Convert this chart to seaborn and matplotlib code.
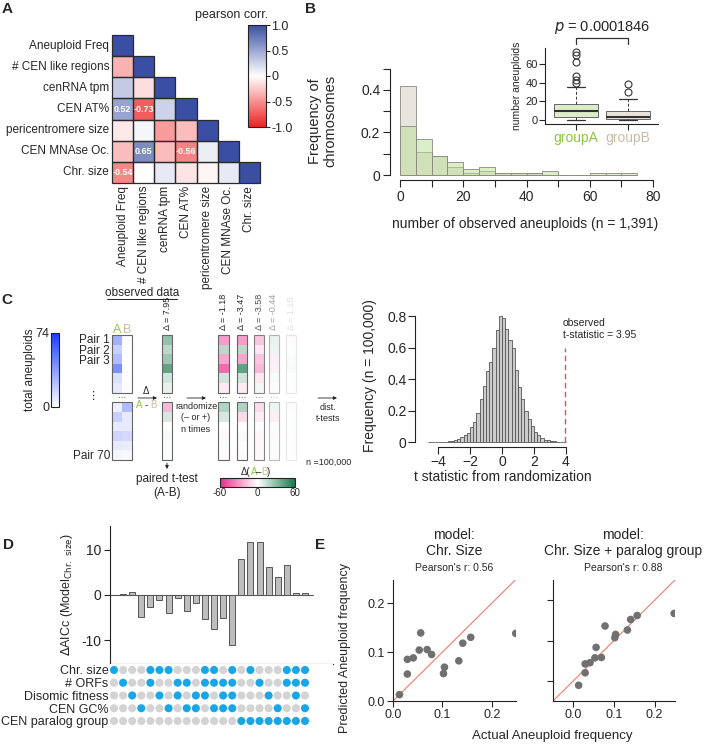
import numpy as np
import pandas as pd
import matplotlib
matplotlib.use("Agg")
import matplotlib.pyplot as plt
import seaborn as sns
from matplotlib.colors import LinearSegmentedColormap, Normalize
from matplotlib.patches import Rectangle
from matplotlib.cm import ScalarMappable

# ---------------- data ----------------
# Panel A
corr_labels = ["Aneuploid Freq", "# CEN like regions", "cenRNA tpm", "CEN AT%",
               "pericentromere size", "CEN MNAse Oc.", "Chr. size"]
corr_rows = [
    [1.00],
    [-0.35, 1.00],
    [0.30, -0.15, 1.00],
    [0.52, -0.73, 0.25, 1.00],
    [-0.10, 0.05, -0.45, -0.30, 1.00],
    [-0.30, 0.65, -0.30, -0.56, 0.10, 1.00],
    [-0.54, 0.00, 0.12, -0.12, -0.04, 0.12, 1.00],
]
cbar_ticks_A = [1.0, 0.5, 0.0, -0.5, -1.0]
cbar_ticklabels_A = ["1.0", "0.5", "0", "-0.5", "-1.0"]

# Panel B
bin_left_B = [0, 5, 10, 15, 20, 25, 30, 35, 40, 45, 50, 55, 60, 65, 70]
groupA_freq = [0.23, 0.17, 0.09, 0.06, 0.03, 0.04, 0.01, 0.01, 0.01, 0.02, 0.0, 0.0, 0.01, 0.01, 0.01]
groupB_freq = [0.42, 0.11, 0.09, 0.04, 0.01, 0.02, 0.01, 0.01, 0.01, 0.0, 0.0, 0.0, 0.0, 0.0, 0.0]
box_groups = ["groupA", "groupB"]
box_q1 = [3.6, 1.0]
box_med = [9.6, 3.0]
box_q3 = [16.8, 10.0]
box_wlo = [0.0, 0.0]
box_whi = [35.7, 22.0]
box_fliers = [[40, 43, 47, 62, 69, 73], [30, 39]]
p_text = "0.0001846"

# Panel C schematic
AB_A = [30, 18, 25, 42, 12, 8, None, 6, 18, 8, 16, 8, 4]
AB_B = [2, 1, 0, 1, 0, 2, None, 26, 8, 8, 14, 7, 3]
obs_delta = [28, 17, 25, 41, 12, 6, None, -20, 10, 0, 2, 1, 1]
rand_cols = [
    [-28, 17, -25, -41, 12, -6, None, 20, 10, 0, -2, 1, -1],
    [-28, 17, -25, 41, 12, -6, None, 20, -10, 0, 2, -1, 1],
    [-20, -8, -20, -25, -8, 4, None, -12, -6, 0, -3, -2, -2],
    [12, 10, -10, -8, 5, -3, None, 10, -10, 2, -3, 2, -2],
    [-6, 4, 8, 10, 2, 3, None, -4, 2, 1, -2, 1, 1],
]
rand_labels = ["-1.18", "-3.47", "-3.58", "-0.44", "1.15"]
obs_label = "7.95"

# Panel C histogram (t statistics, bin width 0.2 from -4.6 to 4.0)
t_freq = [0.001, 0.001, 0.001, 0.002, 0.002, 0.003, 0.005, 0.008,
          0.012, 0.020, 0.030, 0.042, 0.060,
          0.095, 0.130, 0.185, 0.270, 0.355,
          0.450, 0.510, 0.600, 0.710, 0.800,
          0.790, 0.720, 0.650, 0.600, 0.460,
          0.350, 0.270, 0.200, 0.145, 0.100,
          0.065, 0.042, 0.028, 0.015, 0.010,
          0.006, 0.004, 0.003, 0.002, 0.001]
t_observed = 3.95

# Panel D
dAICc = [0.0, 0.2, 0.7, -4.8, -2.6, -1.0, -3.9, -0.7, -3.5, -1.7, -5.3, -7.6, -5.0, -11.0,
         7.9, 11.7, 11.7, 6.1, 3.9, 6.7, 0.4, 0.4]
feature_names = ["Chr. size", "# ORFs", "Disomic fitness", "CEN GC%", "CEN paralog group"]
feature_cols = [
    [1, 5, 6, 7, 11, 12, 14, 16, 20, 21, 22],
    [2, 5, 8, 9, 11, 12, 13, 14, 17, 20, 21, 22],
    [3, 6, 8, 10, 11, 13, 14, 18, 21],
    [4, 7, 9, 10, 12, 13, 14, 19, 22],
    [15, 16, 17, 18, 19, 20, 21, 22],
]

# Panel E
actual_freq = [0.013, 0.029, 0.029, 0.041, 0.053, 0.056, 0.069, 0.078, 0.102, 0.104,
               0.133, 0.141, 0.157, 0.248]
pred_size = [0.013, 0.055, 0.085, 0.088, 0.104, 0.139, 0.105, 0.095, 0.056, 0.069,
             0.082, 0.118, 0.130, 0.138]
pred_paralog = [-0.011, 0.020, 0.042, 0.045, 0.057, 0.083, 0.058, 0.136, 0.107, 0.115,
                0.126, 0.152, 0.162, 0.167]

# ---------------- setup ----------------
sns.set_theme(style="ticks")
plt.rcParams['font.family'] = ['Liberation Sans', 'DejaVu Sans']
plt.rcParams['axes.linewidth'] = 0.8
plt.rcParams['xtick.major.width'] = 0.8
plt.rcParams['ytick.major.width'] = 0.8
plt.rcParams['axes.edgecolor'] = '#222222'

W, H = 709, 744
fig = plt.figure(figsize=(W / 100, H / 100), dpi=100)


def px_axes(x0, y0, x1, y1):
    return fig.add_axes([x0 / W, 1 - y1 / H, (x1 - x0) / W, (y1 - y0) / H])


GREEN_TXT = '#8cc63e'
BEIGE_TXT = '#c9bca6'

# ---------------- Panel A ----------------
n = len(corr_labels)
mat = np.full((n, n), np.nan)
for i, row in enumerate(corr_rows):
    for j, v in enumerate(row):
        mat[i, j] = v
annot = np.full((n, n), "", dtype=object)
for i in range(n):
    for j in range(i):
        if abs(mat[i, j]) >= 0.5:
            annot[i, j] = f"{mat[i, j]:.2f}"
cmapA = LinearSegmentedColormap.from_list("rb", ["#ee2222", "#ffffff", "#3a4fa3"])
axA = px_axes(112, 35, 260, 183)
caxA = px_axes(248, 25, 266, 127)
sns.heatmap(pd.DataFrame(mat, index=corr_labels, columns=corr_labels), ax=axA, cbar_ax=caxA,
            mask=np.isnan(mat), cmap=cmapA, vmin=-1, vmax=1, linewidths=0,
            annot=annot, fmt="", annot_kws=dict(color='white', fontsize=6.5, fontweight='bold'))
for i in range(n):
    for j in range(i + 1):
        axA.add_patch(Rectangle((j, i), 1, 1, fill=False, edgecolor='#2a2a2a', lw=0.9,
                                clip_on=False, zorder=3))
axA.tick_params(length=0, labelsize=8.5, pad=2)
axA.set_xticklabels(corr_labels, rotation=90, fontsize=8.5)
axA.set_yticklabels(corr_labels, rotation=0, fontsize=8.5)
caxA.set_yticks(cbar_ticks_A)
caxA.set_yticklabels(cbar_ticklabels_A, fontsize=9)
caxA.tick_params(length=3, width=0.8, pad=1)
cbA = axA.collections[0].colorbar
if cbA is not None:
    cbA.outline.set_linewidth(0.8)
    cbA.outline.set_edgecolor('#222222')

# ---------------- Panel B ----------------
axB = px_axes(390, 65, 655, 180)
edgesB = bin_left_B + [bin_left_B[-1] + 5]
centersB = [b + 2.5 for b in bin_left_B]
sns.histplot(x=centersB, weights=groupB_freq, bins=edgesB, ax=axB, color='#e8e5df', alpha=1,
             edgecolor='#8a8a80', linewidth=0.6)
sns.histplot(x=centersB, weights=groupA_freq, bins=edgesB, ax=axB, color='#b9df91', alpha=0.5,
             edgecolor='#8a8a80', linewidth=0.6)
axB.set_xlim(-3.16, 80.6)
axB.set_ylim(-0.0235, 0.5176)
axB.spines['left'].set_bounds(0, 0.5)
axB.spines['bottom'].set_bounds(0, 80)
sns.despine(ax=axB)
axB.set_xticks(range(0, 81, 10))
axB.set_xticklabels(["0", "", "20", "", "40", "", "60", "", "80"], fontsize=10)
axB.set_yticks([0, 0.1, 0.2, 0.3, 0.4, 0.5])
axB.set_yticklabels(["0", "", "0.2", "", "0.4", ""], fontsize=10)
axB.tick_params(length=5, pad=2)
axB.set_ylabel("")
axB.set_xlabel("")

axI = px_axes(545, 48, 658, 124)
stats = []
for k in range(2):
    stats.append(dict(label=box_groups[k], med=box_med[k], q1=box_q1[k], q3=box_q3[k],
                      whislo=box_wlo[k], whishi=box_whi[k], fliers=box_fliers[k]))
bp = axI.bxp(stats, positions=[0, 1], widths=0.83, patch_artist=True, capwidths=0.35,
             boxprops=dict(edgecolor='#666666', linewidth=0.7),
             medianprops=dict(color='#333333', linewidth=1.5),
             whiskerprops=dict(color='#333333', linestyle=(0, (3, 2)), linewidth=0.7),
             capprops=dict(color='#333333', linewidth=0.9),
             flierprops=dict(marker='o', markerfacecolor='none', markeredgecolor='#333333',
                             markersize=5, markeredgewidth=0.8))
for patch, fc in zip(bp['boxes'], ['#dcedc8', '#e8e4dc']):
    patch.set_facecolor(fc)
axI.set_xlim(-0.596, 1.577)
axI.set_ylim(-4.29, 77)
sns.despine(ax=axI)
axI.set_yticks([0, 20, 40, 60])
axI.set_yticklabels(["0", "20", "40", "60"], fontsize=8)
axI.set_xticks([0, 1])
axI.set_xticklabels(["", ""])
axI.tick_params(length=4, pad=1)
axI.set_ylabel("number aneuploids", fontsize=7.5, labelpad=3)
axI.plot([0, 0, 1, 1], [81.5, 87.9, 87.9, 81.5], color='#333333', lw=0.9, clip_on=False)
axI.text(0.5, 90, r"$\it{p}$ = " + p_text, ha='center', va='bottom', fontsize=10.5, clip_on=False)
axI.text(0, -12, box_groups[0], color=GREEN_TXT, ha='center', va='top', fontsize=10)
axI.text(1, -12, box_groups[1], color=BEIGE_TXT, ha='center', va='top', fontsize=10)

# ---------------- Panel C schematic ----------------
cmap_blue = LinearSegmentedColormap.from_list("wb", ["#ffffff", "#1a3cff"])
cmap_pg = LinearSegmentedColormap.from_list("pg", ["#ec2a8a", "#ffffff", "#17784a"])


def col_heat(x0, x1, cols, cmap, vmin, vmax, alpha=1.0, edge='#666666'):
    ax = px_axes(x0, 335, x1, 460)
    arr = np.array([[np.nan if v is None else v for v in c] for c in cols], dtype=float).T
    sns.heatmap(arr, ax=ax, cmap=cmap, vmin=vmin, vmax=vmax, cbar=False, alpha=alpha,
                xticklabels=False, yticklabels=False)
    nc = arr.shape[1]
    for (y0, h) in [(0, 6), (7, 6)]:
        ax.add_patch(Rectangle((0, y0), nc, h, fill=False, edgecolor=edge, lw=0.8,
                               clip_on=False, alpha=alpha))
    ax.text(nc / 2, 6.6, "···", ha='center', va='center', fontsize=6, alpha=alpha)
    ax.axis('off')
    return ax


col_heat(112, 132, [AB_A, AB_B], cmap_blue, 0, 74)
col_heat(162, 172, [obs_delta], cmap_pg, -60, 60)
rand_x = [(218, 229), (237, 247), (254, 264), (269, 279), (286, 296)]
rand_alpha = [1.0, 1.0, 0.8, 0.45, 0.15]
for (x0, x1), c, a in zip(rand_x, rand_cols, rand_alpha):
    col_heat(x0, x1, [c], cmap_pg, -60, 60, alpha=a)

# blue colorbar
cax_b = px_axes(51, 333, 59, 407)
cb1 = fig.colorbar(ScalarMappable(norm=Normalize(0, 74), cmap=cmap_blue), cax=cax_b)
cb1.set_ticks([0, 74])
cb1.set_ticklabels(["0", "74"])
cax_b.yaxis.set_ticks_position('left')
cax_b.tick_params(length=0, labelsize=9, pad=1)
cb1.outline.set_linewidth(0.8)

# pink-green colorbar
cax_pg = px_axes(220, 478, 295, 487)
cb2 = fig.colorbar(ScalarMappable(norm=Normalize(-60, 60), cmap=cmap_pg), cax=cax_pg,
                   orientation='horizontal')
cb2.set_ticks([-60, 0, 60])
cb2.set_ticklabels(["-60", "0", "60"])
cax_pg.tick_params(length=0, labelsize=7, pad=1)
cb2.outline.set_linewidth(0.8)

# ---------------- Panel C histogram ----------------
axC = px_axes(415, 305, 575, 447)
edgesC = list(np.round(np.linspace(-4.6, 4.0, len(t_freq) + 1), 2))
centersC = [(edgesC[i] + edgesC[i + 1]) / 2 for i in range(len(t_freq))]
sns.histplot(x=centersC, weights=t_freq, bins=edgesC, ax=axC, color='#cbcbcb', alpha=1,
             edgecolor='#555555', linewidth=0.6)
axC.plot([t_observed, t_observed], [0, 0.6], color='#d9534f', lw=1.0, ls=(0, (4, 2.5)))
axC.set_xlim(-5.4375, 4.5625)
axC.set_ylim(-0.0317, 0.87)
axC.spines['left'].set_bounds(0, 0.8)
axC.spines['bottom'].set_bounds(-4, 4)
sns.despine(ax=axC)
axC.set_xticks([-4, -2, 0, 2, 4])
axC.set_xticklabels(["\u22124", "\u22122", "0", "2", "4"], fontsize=10)
axC.set_yticks([0, 0.2, 0.4, 0.6, 0.8])
axC.set_yticklabels(["0", "0.2", "0.4", "0.6", "0.8"], fontsize=10)
axC.tick_params(length=5, pad=1)
axC.set_ylabel("")
axC.set_xlabel("")

# ---------------- Panel D ----------------
axD = px_axes(110, 526, 333, 664)
dfD = pd.DataFrame({"model": [str(i + 1) for i in range(len(dAICc))], "dAICc": dAICc})
sns.barplot(data=dfD, x="model", y="dAICc", ax=axD, color='#bdbdbd', edgecolor='#555555',
            linewidth=0.7, width=0.66, saturation=1)
axD.set_xlim(-0.44, 24.08)
axD.set_ylim(-15.3, 15.3)
axD.axhline(0, xmin=0, xmax=(313 - 110) / 223, color='#555555', lw=0.8, zorder=0)
sns.despine(ax=axD)
axD.set_xticks([])
axD.set_xlabel("")
axD.set_yticks([-10, 0, 10])
axD.set_yticklabels(["-10", "0", "10"], fontsize=10)
axD.tick_params(length=4, pad=2)
axD.set_ylabel(r"$\Delta$AICc (Model$_{\mathrm{Chr.\ size}}$)", fontsize=9, labelpad=5)

axDot = px_axes(110, 664, 333, 728)
rows = []
for r, name in enumerate(feature_names):
    for c in range(len(dAICc)):
        rows.append(dict(col=c, row=r, used=(c + 1) in feature_cols[r]))
dfDot = pd.DataFrame(rows)
sns.scatterplot(data=dfDot, x="col", y="row", hue="used", palette={True: '#1aa6e6', False: '#d3d3d3'},
                s=34, edgecolor='none', legend=False, ax=axDot)
axDot.set_xlim(-0.44, 24.08)
axDot.set_ylim(4.55, -0.47)
axDot.set_xticks([])
axDot.set_yticks(range(len(feature_names)))
axDot.set_yticklabels(feature_names, fontsize=9)
axDot.tick_params(length=0, pad=1)
axDot.set_xlabel("")
axDot.set_ylabel("")
for s in axDot.spines.values():
    s.set_visible(False)

# ---------------- Panel E ----------------
axE1 = px_axes(393, 580, 516, 701)
sns.scatterplot(x=actual_freq, y=pred_size, ax=axE1, color='#707070', s=30, edgecolor='none')
axE1.plot([0, 0.25], [0, 0.25], color='#f27b6b', lw=0.8, zorder=0)
axE1.set_xlim(0, 0.2485)
axE1.set_ylim(0, 0.247)
sns.despine(ax=axE1)
axE1.set_xticks([0, 0.1, 0.2])
axE1.set_xticklabels(["0.0", "0.1", "0.2"], fontsize=9)
axE1.set_yticks([0, 0.1, 0.2])
axE1.set_yticklabels(["0.0", "0.1", "0.2"], fontsize=9)
axE1.tick_params(length=4, pad=2)

axE2 = px_axes(553, 580, 675, 701)
sns.scatterplot(x=actual_freq, y=pred_paralog, ax=axE2, color='#707070', s=30, edgecolor='none')
axE2.plot([-0.05, 0.25], [-0.05, 0.25], color='#f27b6b', lw=0.8, zorder=0)
axE2.set_xlim(-0.05, 0.25)
axE2.set_ylim(-0.05, 0.25)
sns.despine(ax=axE2)
axE2.set_xticks([0, 0.1, 0.2])
axE2.set_xticklabels(["0.0", "0.1", "0.2"], fontsize=9)
axE2.set_yticks([0, 0.1, 0.2])
axE2.set_yticklabels(["", "", ""])
axE2.tick_params(length=4, pad=2)

# ---------------- overlay texts ----------------
ov = fig.add_axes([0, 0, 1, 1])
ov.set_xlim(0, W)
ov.set_ylim(H, 0)
ov.axis('off')


def T(x, y, s, **kw):
    kw.setdefault('fontsize', 9)
    ov.text(x, y, s, **kw)


def arrow(x0, y0, x1, y1):
    ov.annotate("", xy=(x1, y1), xytext=(x0, y0),
                arrowprops=dict(arrowstyle='-|>', lw=0.6, color='#222222', mutation_scale=5,
                                shrinkA=0, shrinkB=0))


for lab, x, y in [("A", 7, 9), ("B", 311, 9), ("C", 7, 300), ("D", 8, 545), ("E", 320, 545)]:
    T(x, y, lab, fontsize=11, fontweight='bold', ha='center', va='center')

T(232, 15, "pearson corr.", ha='center', va='center', fontsize=9)

# B texts
T(323, 121, "Frequency of\nchromosomes", rotation=90, ha='center', va='center', fontsize=10.5,
  linespacing=1.1)
T(525, 224, "number of observed aneuploids (n = 1,391)", ha='center', va='center', fontsize=10)

# C schematic texts
T(142, 293, "observed data", ha='center', va='center', fontsize=8.5)
ov.plot([107, 177], [299, 299], color='#222222', lw=0.7)
T(117, 330, "A", color=GREEN_TXT, ha='center', va='center', fontsize=9)
T(127, 330, "B", color=BEIGE_TXT, ha='center', va='center', fontsize=9)
for lab, y in [("Pair 1", 340), ("Pair 2", 350.5), ("Pair 3", 361), ("Pair 70", 456)]:
    T(110, y, lab, ha='right', va='center', fontsize=8.5)
T(93, 396, "\u22ee", ha='center', va='center', fontsize=8)
T(30, 370, "total aneuploids", rotation=90, ha='center', va='center', fontsize=8.5)
T(167, 330, "\u0394 = " + obs_label, rotation=90, ha='center', va='bottom', fontsize=6.5)
for (x0, x1), lab, a in zip(rand_x, rand_labels, rand_alpha):
    T((x0 + x1) / 2, 330, "\u0394 = " + lab, rotation=90, ha='center', va='bottom', fontsize=6.5,
      alpha=a)
arrow(138, 398, 157, 398)
T(146, 391, "\u0394", ha='center', va='center', fontsize=7)
T(142, 405, "A", color=GREEN_TXT, ha='right', va='center', fontsize=7)
T(146, 405, "-", ha='center', va='center', fontsize=7)
T(150, 405, "B", color=BEIGE_TXT, ha='left', va='center', fontsize=7)
arrow(187, 398, 206, 398)
T(196, 418, "randomize\n(\u2013 or +)\nn times", ha='center', va='center', fontsize=6.5,
  linespacing=1.3)
arrow(318, 398, 337, 398)
T(328, 413, "dist.\nt-tests", ha='center', va='center', fontsize=6.5, linespacing=1.3)
arrow(167, 463, 167, 469)
T(167, 486, "paired t-test\n(A-B)", ha='center', va='center', fontsize=8.5, linespacing=1.15)
T(306, 462, "n =100,000", ha='left', va='center', fontsize=6.5)
T(250, 472, "\u0394(", ha='right', va='center', fontsize=7)
T(254, 472, "A", color=GREEN_TXT, ha='center', va='center', fontsize=7)
T(259, 472, "\u2013", ha='center', va='center', fontsize=7)
T(264, 472, "B", color=BEIGE_TXT, ha='center', va='center', fontsize=7)
T(267, 472, ")", ha='left', va='center', fontsize=7)

# C histogram texts
T(370, 376, "Frequency (n = 100,000)", rotation=90, ha='center', va='center', fontsize=10)
T(503, 477, "t statistic from randomization", ha='center', va='center', fontsize=10)
T(563, 318, "observed\nt-statistic = 3.95", ha='left', va='top', fontsize=7.5, linespacing=1.2)

# E texts
T(454, 543, "model:\nChr. Size", ha='center', va='center', fontsize=10, linespacing=1.1)
T(454, 568, "Pearson's r: 0.56", ha='center', va='center', fontsize=7.5)
T(623, 543, "model:\nChr. Size + paralog group", ha='center', va='center', fontsize=10,
  linespacing=1.1)
T(623, 568, "Pearson's r: 0.88", ha='center', va='center', fontsize=7.5)
T(345, 648, "Predicted Aneuploid frequency", rotation=90, ha='center', va='center', fontsize=9)
T(552, 736, "Actual Aneuploid frequency", ha='center', va='center', fontsize=9.5)

fig.savefig("out.png", dpi=100)
